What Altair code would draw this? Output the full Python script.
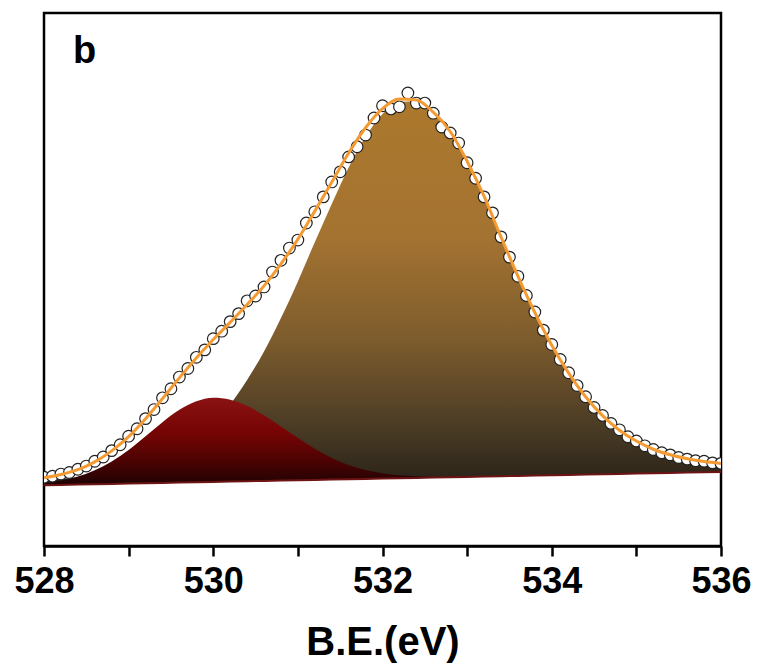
import altair as alt
import pandas as pd

# ---- data ----
grid_x = [528.0, 528.2, 528.4, 528.6, 528.8, 529.0, 529.2, 529.4, 529.6, 529.8,
          530.0, 530.2, 530.4, 530.6, 530.8, 531.0, 531.2, 531.4, 531.6, 531.8,
          532.0, 532.2, 532.4, 532.6, 532.8, 533.0, 533.2, 533.4, 533.6, 533.8,
          534.0, 534.2, 534.4, 534.6, 534.8, 535.0, 535.2, 535.4, 535.6, 535.8, 536.0]
baseline = [11.40, 11.46, 11.53, 11.59, 11.65, 11.71, 11.78, 11.84, 11.90, 11.96,
            12.03, 12.09, 12.15, 12.21, 12.28, 12.34, 12.40, 12.46, 12.53, 12.59,
            12.65, 12.71, 12.78, 12.84, 12.90, 12.96, 13.03, 13.09, 13.15, 13.21,
            13.28, 13.34, 13.40, 13.46, 13.53, 13.59, 13.65, 13.71, 13.78, 13.84, 13.90]
peak_532 = [1.0, 1.15, 1.3, 1.6, 2.0, 2.5, 3.3, 4.4, 6.0, 8.1,
            10.9, 14.5, 19.0, 24.3, 30.5, 37.3, 44.6, 51.7, 58.5, 64.2,
            68.4, 70.6, 70.6, 68.4, 64.8, 59.2, 52.6, 44.9, 37.5, 30.6,
            24.4, 19.1, 14.6, 11.0, 8.2, 6.1, 4.5, 3.4, 2.6, 2.0, 1.6]
peak_530 = [0.41, 0.82, 1.5, 2.6, 4.2, 6.3, 8.8, 11.4, 13.65, 15.2,
            15.8, 15.37, 14.15, 12.3, 10.15, 7.9, 5.83, 4.07, 2.69, 1.68,
            0.99, 0.55, 0.29, 0.15, 0.07, 0.03, 0.0, 0.0, 0.0, 0.0,
            0.0, 0.0, 0.0, 0.0, 0.0, 0.0, 0.0, 0.0, 0.0, 0.0, 0.0]

meas_x = [528.0, 528.1, 528.2, 528.3, 528.4, 528.5, 528.6, 528.7, 528.8, 528.9,
          529.0, 529.1, 529.2, 529.3, 529.4, 529.5, 529.6, 529.7, 529.8, 529.9,
          530.0, 530.1, 530.2, 530.3, 530.4, 530.5, 530.6, 530.7, 530.8, 530.9,
          531.0, 531.1, 531.2, 531.3, 531.4, 531.5, 531.6, 531.7, 531.8, 531.9,
          532.0, 532.1, 532.2, 532.3, 532.4, 532.5, 532.6, 532.7, 532.8, 532.9,
          533.0, 533.1, 533.2, 533.3, 533.4, 533.5, 533.6, 533.7, 533.8, 533.9,
          534.0, 534.1, 534.2, 534.3, 534.4, 534.5, 534.6, 534.7, 534.8, 534.9,
          535.0, 535.1, 535.2, 535.3, 535.4, 535.5, 535.6, 535.7, 535.8, 535.9, 536.0]
meas_y = [12.9, 13.1, 13.5, 13.8, 14.4, 15.0, 15.9, 16.7, 17.9, 19.0,
          20.6, 22.0, 23.9, 25.6, 27.8, 29.5, 31.7, 33.3, 35.4, 36.8,
          38.9, 40.3, 42.1, 43.6, 46.0, 46.9, 48.6, 51.4, 53.6, 55.9,
          57.4, 60.6, 62.7, 65.5, 68.3, 70.2, 73.0, 74.9, 77.1, 80.3,
          82.6, 82.0, 82.4, 85.0, 83.1, 83.1, 81.2, 78.6, 77.5, 75.6,
          71.9, 69.0, 65.5, 62.5, 58.0, 54.2, 50.6, 47.0, 43.9, 40.5,
          37.8, 35.0, 32.5, 30.1, 28.0, 26.0, 24.5, 23.0, 21.8, 20.5,
          19.7, 18.8, 18.1, 17.5, 17.1, 16.6, 16.3, 16.0, 15.9, 15.6, 15.5]

tick_values = [528, 529, 530, 531, 532, 533, 534, 535, 536]

# ---- tables ----
comp = pd.DataFrame({"x": grid_x, "base": baseline, "p532": peak_532, "p530": peak_530})
comp["top532"] = comp["base"] + comp["p532"]
comp["top530"] = comp["base"] + comp["p530"]
comp["fit"] = comp["base"] + comp["p532"] + comp["p530"]
meas = pd.DataFrame({"x": meas_x, "y": meas_y})

xscale = alt.Scale(domain=[528, 536], nice=False, zero=False)
yscale = alt.Scale(domain=[0, 100], nice=False, zero=False)

xaxis = alt.Axis(
    values=tick_values,
    format="d",
    labelExpr="datum.value % 2 == 0 ? datum.label : ''",
    title="B.E.(eV)",
    grid=False,
    labelFlush=False,
    labelOverlap=False,
    labelFont="Liberation Sans",
    labelFontWeight="bold",
    labelFontSize=36,
    labelColor="black",
    labelPadding=8,
    tickColor="black",
    tickWidth=2.5,
    tickSize=10,
    domainColor="black",
    domainWidth=2.5,
    titleFont="Liberation Sans",
    titleFontWeight="bold",
    titleFontSize=40,
    titleColor="black",
    titlePadding=23,
)

brown_grad = alt.Gradient(
    gradient="linear", x1=0, x2=0, y1=0, y2=1,
    stops=[alt.GradientStop(color="#AC782D", offset=0),
           alt.GradientStop(color="#A47331", offset=0.35),
           alt.GradientStop(color="#7D5C2D", offset=0.62),
           alt.GradientStop(color="#4A3B25", offset=0.85),
           alt.GradientStop(color="#282218", offset=1)])
red_grad = alt.Gradient(
    gradient="linear", x1=0, x2=0, y1=0, y2=1,
    stops=[alt.GradientStop(color="#8A1212", offset=0),
           alt.GradientStop(color="#760404", offset=0.4),
           alt.GradientStop(color="#480202", offset=0.75),
           alt.GradientStop(color="#1E0303", offset=1)])

base = alt.Chart(comp)

brown = base.mark_area(color=brown_grad, interpolate="monotone", clip=True).encode(
    x=alt.X("x:Q", scale=xscale, axis=xaxis),
    y=alt.Y("top532:Q", scale=yscale, axis=None),
    y2="base:Q",
)
red = base.mark_area(color=red_grad, interpolate="monotone", clip=True).encode(
    x=alt.X("x:Q", scale=xscale),
    y=alt.Y("top530:Q", scale=yscale),
    y2="base:Q",
)
bline = base.mark_line(color="#6E1414", strokeWidth=2, clip=True).encode(
    x=alt.X("x:Q", scale=xscale),
    y=alt.Y("base:Q", scale=yscale),
)
pts = alt.Chart(meas).mark_point(
    shape="circle", filled=False, fill="white", fillOpacity=1,
    stroke="#222222", strokeWidth=1.2, size=135, opacity=1, clip=True
).encode(
    x=alt.X("x:Q", scale=xscale),
    y=alt.Y("y:Q", scale=yscale),
)
fit = base.mark_line(color="#F39A32", strokeWidth=3, interpolate="monotone", clip=True).encode(
    x=alt.X("x:Q", scale=xscale),
    y=alt.Y("fit:Q", scale=yscale),
)
label = alt.Chart(pd.DataFrame({"t": ["b"]})).mark_text(
    font="Liberation Sans", fontWeight="bold", fontSize=38, color="black",
    align="left", baseline="alphabetic"
).encode(x=alt.value(29), y=alt.value(50), text="t:N")

chart = alt.layer(brown, red, bline, pts, fit, label).properties(
    width=677, height=533,
    padding={"left": 44, "top": 13, "right": 36, "bottom": 122},
    autosize=alt.AutoSizeParams(type="none"),
    background="white",
).configure_view(
    stroke="black", strokeWidth=2.5
)

chart.save("out.html", embed_options={"renderer": "svg", "actions": False})
